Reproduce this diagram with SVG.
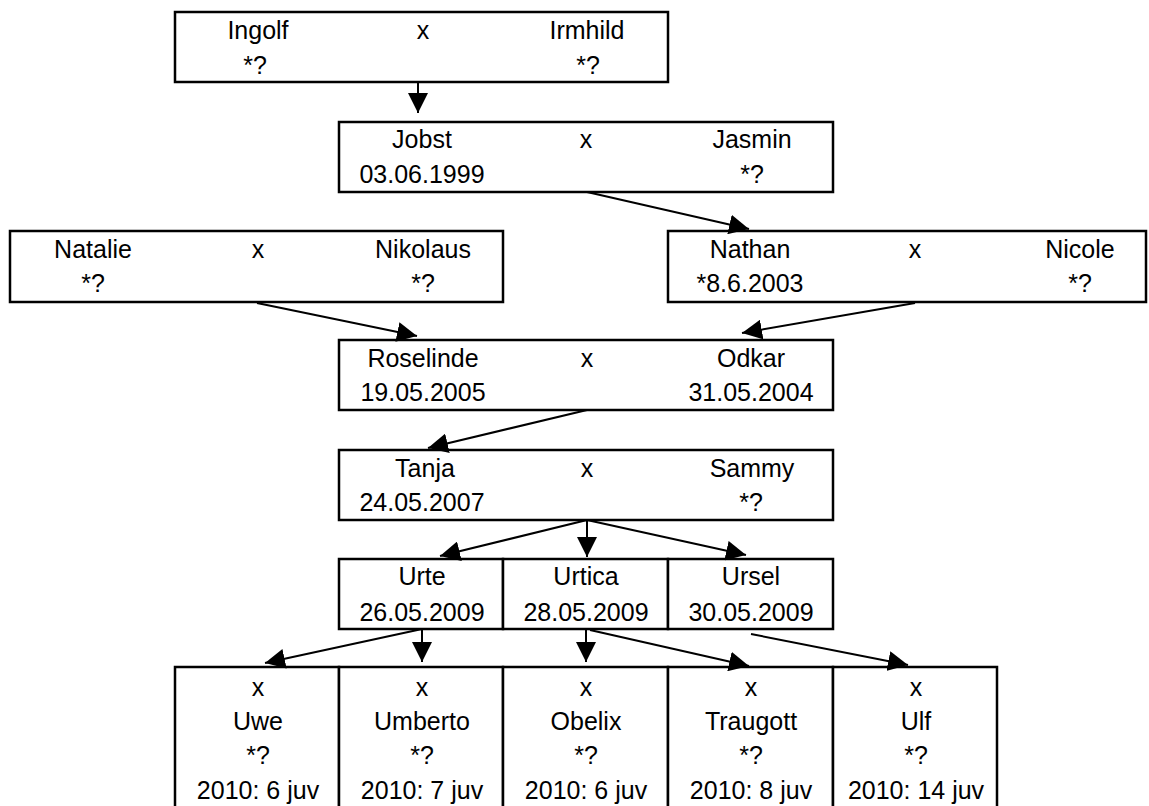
<svg xmlns="http://www.w3.org/2000/svg" width="1149" height="806" viewBox="0 0 1149 806">
<style>
  .box { fill: #ffffff; stroke: #000000; stroke-width: 2.5; }
  .div { stroke: #000000; stroke-width: 2.5; }
  text { font-family: "Liberation Sans", Arial, sans-serif; font-size: 25px; fill: #000000; text-anchor: middle; }
  .conn line { stroke: #000000; stroke-width: 2; marker-end: url(#arrow); }
</style>
<defs>
  <marker id="arrow" viewBox="0 0 20 20" refX="20" refY="10" markerWidth="20" markerHeight="20" markerUnits="userSpaceOnUse" orient="auto">
    <path d="M0,0 L20,10 L0,20 z" fill="#000000"/>
  </marker>
</defs>
<rect width="1149" height="806" fill="#ffffff"/>

<g id="ingolf-irmhild">
  <rect class="box" x="175" y="12" width="493" height="70"/>
  <text x="258" y="39">Ingolf</text>
  <text x="423" y="39">x</text>
  <text x="587" y="39">Irmhild</text>
  <text x="255" y="74">*?</text>
  <text x="588" y="74">*?</text>
</g>

<g id="jobst-jasmin">
  <rect class="box" x="339" y="122" width="494" height="70"/>
  <text x="422" y="148">Jobst</text>
  <text x="586" y="148">x</text>
  <text x="752" y="148">Jasmin</text>
  <text x="422" y="183">03.06.1999</text>
  <text x="752" y="183">*?</text>
</g>

<g id="natalie-nikolaus">
  <rect class="box" x="10" y="231" width="493" height="71"/>
  <text x="93" y="258">Natalie</text>
  <text x="258" y="258">x</text>
  <text x="423" y="258">Nikolaus</text>
  <text x="93" y="292">*?</text>
  <text x="423" y="292">*?</text>
</g>

<g id="nathan-nicole">
  <rect class="box" x="668" y="231" width="478" height="71"/>
  <text x="750" y="258">Nathan</text>
  <text x="915" y="258">x</text>
  <text x="1080" y="258">Nicole</text>
  <text x="750" y="292">*8.6.2003</text>
  <text x="1080" y="292">*?</text>
</g>

<g id="roselinde-odkar">
  <rect class="box" x="339" y="340" width="494" height="70"/>
  <text x="423" y="367">Roselinde</text>
  <text x="587" y="367">x</text>
  <text x="751" y="367">Odkar</text>
  <text x="423" y="401">19.05.2005</text>
  <text x="751" y="401">31.05.2004</text>
</g>

<g id="tanja-sammy">
  <rect class="box" x="339" y="450" width="494" height="70"/>
  <text x="425" y="477">Tanja</text>
  <text x="587" y="477">x</text>
  <text x="752" y="477">Sammy</text>
  <text x="422" y="511">24.05.2007</text>
  <text x="751" y="511">*?</text>
</g>

<g id="urte">
  <rect class="box" x="339" y="559" width="164" height="70"/>
  <text x="422" y="585">Urte</text>
  <text x="422" y="621">26.05.2009</text>
</g>
<g id="urtica">
  <rect class="box" x="503" y="559" width="165" height="70"/>
  <text x="586" y="585">Urtica</text>
  <text x="586" y="621">28.05.2009</text>
</g>
<g id="ursel">
  <rect class="box" x="668" y="559" width="165" height="70"/>
  <text x="751" y="585">Ursel</text>
  <text x="751" y="621">30.05.2009</text>
</g>

<g id="uwe">
  <rect class="box" x="175" y="667" width="164" height="160"/>
  <text x="258" y="696">x</text>
  <text x="258" y="730">Uwe</text>
  <text x="258" y="764">*?</text>
  <text x="258" y="799">2010: 6 juv</text>
</g>
<g id="umberto">
  <rect class="box" x="339" y="667" width="164" height="160"/>
  <text x="422" y="696">x</text>
  <text x="422" y="730">Umberto</text>
  <text x="422" y="764">*?</text>
  <text x="422" y="799">2010: 7 juv</text>
</g>
<g id="obelix">
  <rect class="box" x="503" y="667" width="165" height="160"/>
  <text x="586" y="696">x</text>
  <text x="586" y="730">Obelix</text>
  <text x="586" y="764">*?</text>
  <text x="586" y="799">2010: 6 juv</text>
</g>
<g id="traugott">
  <rect class="box" x="668" y="667" width="165" height="160"/>
  <text x="751" y="696">x</text>
  <text x="751" y="730">Traugott</text>
  <text x="751" y="764">*?</text>
  <text x="751" y="799">2010: 8 juv</text>
</g>
<g id="ulf">
  <rect class="box" x="833" y="667" width="164" height="160"/>
  <text x="916" y="696">x</text>
  <text x="916" y="730">Ulf</text>
  <text x="916" y="764">*?</text>
  <text x="916" y="799">2010: 14 juv</text>
</g>

<g id="connectors" class="conn">
  <line x1="418" y1="82" x2="418" y2="113"/>
  <line x1="587" y1="192" x2="749" y2="229"/>
  <line x1="257" y1="303" x2="417" y2="336"/>
  <line x1="915" y1="303" x2="742" y2="333"/>
  <line x1="587" y1="410" x2="428" y2="448"/>
  <line x1="587" y1="520" x2="440" y2="556"/>
  <line x1="587" y1="520" x2="587" y2="557"/>
  <line x1="587" y1="520" x2="746" y2="555"/>
  <line x1="422" y1="629" x2="265" y2="663"/>
  <line x1="422" y1="629" x2="422" y2="662"/>
  <line x1="586" y1="629" x2="586" y2="662"/>
  <line x1="590" y1="630" x2="749" y2="666"/>
  <line x1="751" y1="634" x2="908" y2="665"/>
</g>
</svg>
